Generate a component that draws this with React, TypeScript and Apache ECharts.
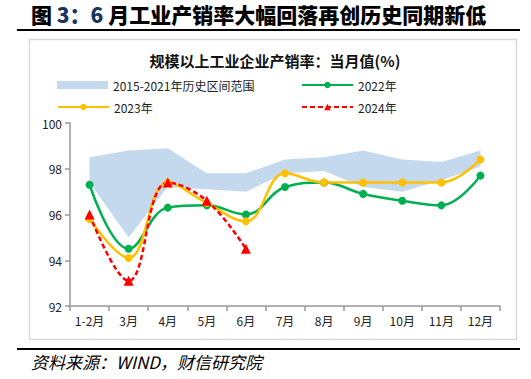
import React, { useEffect, useRef } from "react";
import * as echarts from "echarts";

const categories = ["1-2月", "3月", "4月", "5月", "6月", "7月", "8月", "9月", "10月", "11月", "12月"];
const bandLower = [97.4, 95.0, 97.2, 97.1, 97.0, 97.8, 97.9, 97.2, 97.0, 97.5, 98.1];
const bandUpper = [98.5, 98.8, 98.9, 97.8, 97.8, 98.4, 98.5, 98.8, 98.4, 98.3, 98.8];
const s2022 = [97.3, 94.5, 96.3, 96.4, 96.0, 97.2, 97.4, 96.9, 96.6, 96.4, 97.7];
const s2023 = [95.8, 94.1, 97.4, 96.5, 95.7, 97.8, 97.4, 97.4, 97.4, 97.4, 98.4];
const s2024 = [96.0, 93.1, 97.4, 96.6, 94.5];
const yTicks = { min: 92, max: 100, interval: 2 };

const FONT = "'Noto Sans CJK SC', 'Noto Sans', sans-serif";
const BAND = "#C5D9EE";
const GREEN = "#00B050";
const YELLOW = "#FFC000";
const RED = "#FF0000";

export default function App() {
  const ref = useRef<HTMLDivElement>(null);
  useEffect(() => {
    if (!ref.current) return;
    const chart = echarts.init(ref.current, undefined, { renderer: "svg" });
    const bandDiff = bandUpper.map((u, i) => Math.round((u - bandLower[i]) * 100) / 100);
    const legendBase = {
      itemWidth: 51,
      itemHeight: 8,
      textStyle: { fontSize: 12, color: "#222", fontFamily: FONT },
      selectedMode: false as const,
      orient: "horizontal" as const,
    };
    chart.setOption({
      animation: false,
      textStyle: { fontFamily: FONT },
      graphic: [
        {
          type: "text",
          left: 31,
          top: 3,
          style: {
            text: "{a|图 }{b|3：6 }{a|月工业产销率大幅回落再创历史同期新低}",
            rich: {
              a: { fontSize: 21, lineHeight: 24, fontWeight: 900, fill: "#000", fontFamily: FONT },
              b: { fontSize: 21, lineHeight: 24, fontWeight: 900, fill: "#17365D", fontFamily: FONT },
            },
          },
        },
        { type: "rect", shape: { x: 17, y: 29, width: 503, height: 2 }, style: { fill: "#000" } },
        {
          type: "rect",
          shape: { x: 29.5, y: 39.5, width: 487, height: 300 },
          style: { fill: "none", stroke: "#D9D9D9", lineWidth: 1.5 },
          z: -1,
        },
        { type: "rect", shape: { x: 17, y: 348, width: 503, height: 2 }, style: { fill: "#000" } },
        {
          type: "text",
          left: 31,
          top: 353,
          style: {
            text: "资料来源：WIND，财信研究院",
            fontSize: 17,
            fontStyle: "italic",
            fill: "#000",
            fontFamily: FONT,
          },
        },
      ],
      title: {
        text: "规模以上工业企业产销率：当月值(%)",
        left: 270,
        textAlign: "center",
        top: 48,
        textStyle: { fontSize: 15, fontWeight: "bold", color: "#111", fontFamily: FONT },
      },
      legend: [
        {
          ...legendBase,
          left: 52,
          top: 74,
          data: [{ name: "2015-2021年历史区间范围", icon: "rect", itemStyle: { color: BAND, borderWidth: 0 } }],
        },
        { ...legendBase, left: 296, top: 74, data: ["2022年"] },
        { ...legendBase, left: 52, top: 96, data: ["2023年"] },
        { ...legendBase, left: 296, top: 96, data: ["2024年"] },
      ],
      grid: { left: 70, right: 31, top: 123, bottom: 73, containLabel: false },
      xAxis: {
        type: "category",
        data: categories,
        boundaryGap: true,
        axisLine: { lineStyle: { color: "#999", width: 1.5 } },
        axisTick: { show: true, length: 5, lineStyle: { color: "#999", width: 1.5 } },
        axisLabel: { fontSize: 12, color: "#222", margin: 8, fontFamily: FONT },
        splitLine: { show: false },
      },
      yAxis: {
        type: "value",
        min: yTicks.min,
        max: yTicks.max,
        interval: yTicks.interval,
        axisLine: { show: true, lineStyle: { color: "#999", width: 1.5 } },
        axisTick: { show: true, length: 5, lineStyle: { color: "#999", width: 1.5 } },
        axisLabel: { fontSize: 12, color: "#222", margin: 8, fontFamily: FONT },
        splitLine: { show: false },
      },
      series: [
        {
          name: "lower",
          type: "line",
          stack: "band",
          data: bandLower,
          symbol: "none",
          lineStyle: { opacity: 0, width: 0 },
          silent: true,
        },
        {
          name: "2015-2021年历史区间范围",
          type: "line",
          stack: "band",
          data: bandDiff,
          symbol: "none",
          color: BAND,
          lineStyle: { opacity: 0, width: 0 },
          areaStyle: { color: BAND, opacity: 1 },
          silent: true,
        },
        {
          name: "2022年",
          type: "line",
          data: s2022,
          smooth: 0.4,
          color: GREEN,
          symbol: "circle",
          symbolSize: 8,
          lineStyle: { color: GREEN, width: 2.5 },
          itemStyle: { color: GREEN },
        },
        {
          name: "2023年",
          type: "line",
          data: s2023,
          smooth: 0.4,
          color: YELLOW,
          symbol: "circle",
          symbolSize: 8,
          lineStyle: { color: YELLOW, width: 2.5 },
          itemStyle: { color: YELLOW },
        },
        {
          name: "2024年",
          type: "line",
          data: s2024,
          smooth: 0.4,
          color: RED,
          symbol: "triangle",
          symbolSize: 10,
          lineStyle: { color: RED, width: 2.5, type: [5, 3] },
          itemStyle: { color: RED },
        },
      ],
    });
    return () => chart.dispose();
  }, []);
  return (
    <div
      style={{ position: "fixed", left: 0, top: 0, width: 531, height: 379, background: "#fff" }}
    >
      <div ref={ref} style={{ width: 531, height: 379 }} />
    </div>
  );
}
